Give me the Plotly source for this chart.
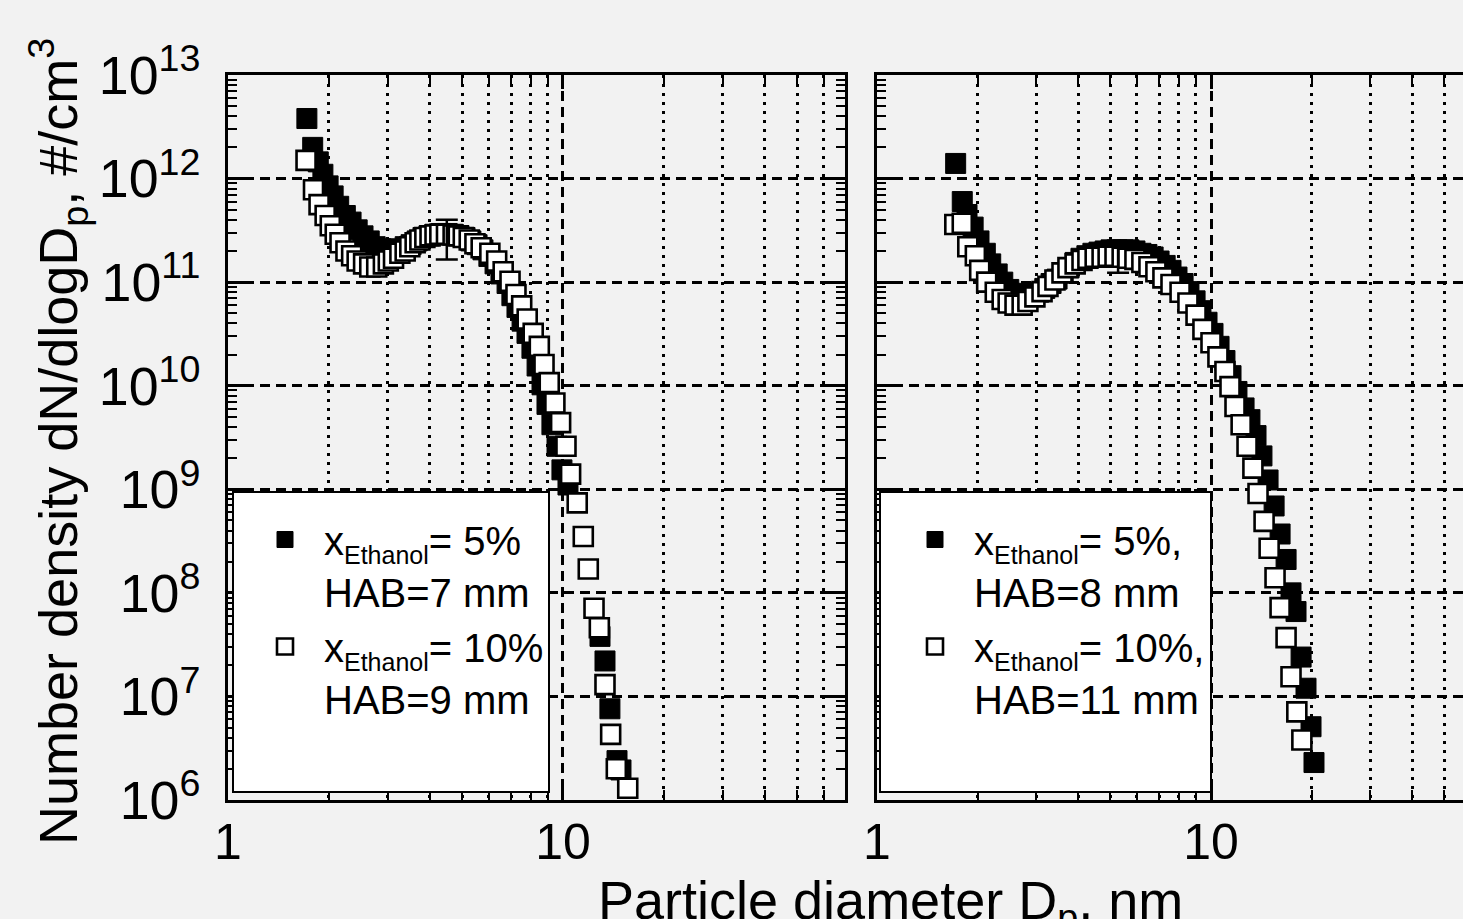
import plotly.graph_objects as go

# ---------------- data ----------------
# Left panel: x_Ethanol = 5 %, HAB = 7 mm (filled squares)
left_d_5 = [1.72, 1.79, 1.86, 1.92, 1.99, 2.06, 2.14, 2.24, 2.33, 2.43, 2.53, 2.64, 2.75, 2.86, 2.98,
            3.11, 3.24, 3.38, 3.52, 3.67, 3.82, 3.98, 4.15, 4.32, 4.51, 4.69, 4.89, 5.10, 5.31, 5.54,
            5.77, 6.01, 6.27, 6.53, 6.81, 7.04, 7.29, 7.55, 7.81, 8.08, 8.37, 8.66, 8.96, 9.27, 9.60,
            9.93, 10.35, 12.9, 13.35, 13.81, 14.50, 14.90]
left_n_5 = [3.8e12, 2.0e12, 1.45e12, 1.1e12, 8.5e11, 6.8e11, 5.4e11, 4.4e11, 3.8e11, 3.2e11, 2.8e11,
            2.5e11, 2.2e11, 2.1e11, 2.05e11, 2.05e11, 2.1e11, 2.2e11, 2.3e11, 2.5e11, 2.7e11, 2.8e11,
            2.9e11, 2.95e11, 2.95e11, 2.9e11, 2.8e11, 2.7e11, 2.5e11, 2.3e11, 2.05e11, 1.77e11, 1.5e11,
            1.2e11, 9.7e10, 7.4e10, 5.7e10, 4.2e10, 3.2e10, 2.3e10, 1.55e10, 1.02e10, 6.6e9, 4.2e9,
            2.6e9, 1.54e9, 1.1e9, 3.8e7, 2.2e7, 7.6e6, 2.4e6, 1.95e6]

# Left panel: x_Ethanol = 10 %, HAB = 9 mm (open squares)
left_d_10 = [1.71, 1.80, 1.87, 1.95, 2.02, 2.09, 2.16, 2.25, 2.34, 2.43, 2.54, 2.65, 2.78, 2.91, 3.01,
             3.12, 3.26, 3.38, 3.49, 3.62, 3.74, 3.87, 4.01, 4.15, 4.29, 4.49, 4.70, 4.87, 5.04, 5.25,
             5.46, 5.70, 6.05, 6.34, 6.63, 6.95, 7.24, 7.53, 7.82, 8.15, 8.50, 8.78, 9.10, 9.46, 9.84,
             10.21, 10.54, 11.03, 11.50, 11.90, 12.38, 12.84, 13.35, 13.88, 14.43, 15.61]
left_n_10 = [1.5e12, 7.8e11, 5.6e11, 4.4e11, 3.5e11, 2.9e11, 2.4e11, 2.0e11, 1.8e11, 1.6e11, 1.5e11,
             1.4e11, 1.4e11, 1.5e11, 1.6e11, 1.7e11, 1.9e11, 2.0e11, 2.2e11, 2.4e11, 2.55e11, 2.7e11,
             2.8e11, 2.85e11, 2.9e11, 2.9e11, 2.85e11, 2.8e11, 2.7e11, 2.55e11, 2.35e11, 2.15e11,
             1.9e11, 1.6e11, 1.26e11, 1.02e11, 7.6e10, 5.9e10, 4.4e10, 3.2e10, 2.4e10, 1.6e10,
             1.07e10, 6.8e9, 4.4e9, 2.6e9, 1.4e9, 7.4e8, 3.5e8, 1.7e8, 7.1e7, 4.6e7, 1.3e7, 4.3e6,
             2.0e6, 1.3e6]

# Right panel: x_Ethanol = 5 %, HAB = 8 mm (filled squares)
right_d_5 = [1.72, 1.80, 1.86, 1.94, 2.02, 2.11, 2.19, 2.29, 2.38, 2.48, 2.59, 2.70, 2.81, 2.93, 3.05,
             3.18, 3.32, 3.46, 3.61, 3.76, 3.92, 4.08, 4.25, 4.43, 4.62, 4.82, 5.02, 5.23, 5.45, 5.68,
             5.92, 6.17, 6.43, 6.71, 6.99, 7.29, 7.59, 7.91, 8.25, 8.59, 8.96, 9.33, 9.73, 10.14, 10.57,
             11.01, 11.48, 11.96, 12.56, 13.08, 13.64, 14.21, 14.82, 15.45, 16.10, 16.78, 17.36, 17.97,
             18.61, 19.25, 19.93, 20.34]
right_n_5 = [1.4e12, 6.0e11, 4.5e11, 3.4e11, 2.5e11, 1.9e11, 1.5e11, 1.2e11, 1.0e11, 8.5e10, 7.8e10,
             7.4e10, 7.4e10, 7.6e10, 8.0e10, 8.7e10, 9.7e10, 1.07e11, 1.23e11, 1.38e11, 1.55e11, 1.7e11,
             1.8e11, 1.9e11, 1.95e11, 2.0e11, 2.05e11, 2.05e11, 2.05e11, 2.05e11, 2.0e11, 1.9e11,
             1.85e11, 1.75e11, 1.6e11, 1.45e11, 1.3e11, 1.12e11, 9.7e10, 8.1e10, 6.6e10, 5.3e10, 4.1e10,
             3.2e10, 2.4e10, 1.75e10, 1.25e10, 8.8e9, 6.1e9, 4.7e9, 3.3e9, 2.1e9, 1.23e9, 6.9e8, 3.7e8,
             2.1e8, 1.0e8, 6.6e7, 2.4e7, 1.2e7, 5.1e6, 2.3e6]

# Right panel: x_Ethanol = 10 %, HAB = 11 mm (open squares)
right_d_10 = [1.71, 1.80, 1.87, 1.97, 2.03, 2.13, 2.26, 2.37, 2.47, 2.59, 2.72, 2.83, 2.97, 3.12, 3.25,
              3.41, 3.58, 3.73, 3.92, 4.11, 4.28, 4.50, 4.72, 4.92, 5.16, 5.42, 5.64, 5.92, 6.21, 6.52,
              6.84, 7.18, 7.59, 8.08, 8.53, 9.02, 9.46, 10.0, 10.49, 11.01, 11.40, 11.80, 12.31, 12.82,
              13.35, 13.83, 14.42, 14.93, 15.55, 16.10, 16.78, 17.36, 18.07, 18.71]
right_n_10 = [3.6e11, 3.7e11, 2.2e11, 1.8e11, 1.3e11, 1.0e11, 8.0e10, 6.8e10, 6.3e10, 6.0e10, 6.0e10,
              6.5e10, 7.2e10, 8.1e10, 9.1e10, 1.05e11, 1.23e11, 1.38e11, 1.5e11, 1.62e11, 1.7e11,
              1.74e11, 1.74e11, 1.78e11, 1.78e11, 1.74e11, 1.7e11, 1.66e11, 1.55e11, 1.41e11, 1.26e11,
              1.1e11, 9.5e10, 8.0e10, 6.3e10, 4.8e10, 3.5e10, 2.6e10, 1.9e10, 1.37e10, 9.8e9, 6.3e9,
              4.2e9, 2.6e9, 1.6e9, 9.1e8, 4.9e8, 2.7e8, 1.4e8, 7.2e7, 3.7e7, 1.55e7, 7.1e6, 3.8e6]

# error bars (diameter, value, plus, minus)
left_err_d, left_err_n, left_err_p, left_err_m = [4.50], [2.9e11], [1.1e11], [1.25e11]
right_err_d, right_err_n, right_err_p, right_err_m = [5.27], [1.78e11], [5.5e10], [5.5e10]

SUB = '<sub><span style="font-size:25px">Ethanol</span></sub>'
legend_left = ["x" + SUB + "= 5%<br>HAB=7 mm", "x" + SUB + "= 10%<br>HAB=9 mm"]
legend_right = ["x" + SUB + "= 5%,<br>HAB=8 mm", "x" + SUB + "= 10%,<br>HAB=11 mm"]

x_title = "Particle diameter D<sub>p</sub>, nm"
y_title = "Number density dN/dlogD<sub>p</sub>, #/cm<sup>3</sup>"

# ---------------- figure ----------------
W, H = 1463, 919
BG = "#f2f2f2"
FONT = "Arial, Liberation Sans, Helvetica, sans-serif"

filled = dict(symbol="square", size=20, color="black", line=dict(color="black", width=1))
opened = dict(symbol="square", size=19, color="white", line=dict(color="black", width=2.6))

fig = go.Figure()
fig.add_trace(go.Scatter(x=left_d_5, y=left_n_5, mode="markers", marker=filled,
                         name=legend_left[0], xaxis="x", yaxis="y", legend="legend"))
fig.add_trace(go.Scatter(x=left_d_10, y=left_n_10, mode="markers", marker=opened,
                         name=legend_left[1], xaxis="x", yaxis="y", legend="legend"))
fig.add_trace(go.Scatter(x=right_d_5, y=right_n_5, mode="markers", marker=filled,
                         name=legend_right[0], xaxis="x2", yaxis="y2", legend="legend2"))
fig.add_trace(go.Scatter(x=right_d_10, y=right_n_10, mode="markers", marker=opened,
                         name=legend_right[1], xaxis="x2", yaxis="y2", legend="legend2"))
fig.add_trace(go.Scatter(x=left_err_d, y=left_err_n, mode="markers", marker=dict(size=1, opacity=0),
                         error_y=dict(type="data", array=left_err_p, arrayminus=left_err_m,
                                      color="black", thickness=2.5, width=11),
                         showlegend=False, xaxis="x", yaxis="y"))
fig.add_trace(go.Scatter(x=right_err_d, y=right_err_n, mode="markers", marker=dict(size=1, opacity=0),
                         error_y=dict(type="data", array=right_err_p, arrayminus=right_err_m,
                                      color="black", thickness=2.5, width=11),
                         showlegend=False, xaxis="x2", yaxis="y2"))

def px(v):
    return v / W

def py(v):
    return 1 - v / H

TOP, BOT = 75, 800
ydom = [py(BOT), py(TOP)]

xaxis_common = dict(
    type="log", dtick=1, showline=True, linecolor="black", linewidth=3,
    ticks="inside", ticklen=14, tickwidth=3, tickcolor="black",
    showgrid=True, gridcolor="black", gridwidth=2.5, griddash="10px,6px",
    minor=dict(dtick="D1", ticks="inside", ticklen=10, tickwidth=2, tickcolor="black",
               showgrid=True, gridcolor="black", gridwidth=2.5, griddash="3px,6px"),
    tickfont=dict(family=FONT, size=50, color="black"), ticklabelstandoff=-4,
    zeroline=False,
)
yaxis_common = dict(
    type="log", dtick=1, range=[6, 13], domain=ydom, showline=True, linecolor="black", linewidth=3,
    ticks="inside", ticklen=18, tickwidth=3, tickcolor="black",
    showgrid=True, gridcolor="black", gridwidth=2.5, griddash="10px,6px",
    minor=dict(dtick="D1", ticks="inside", ticklen=9, tickwidth=2, tickcolor="black", showgrid=False),
    exponentformat="power", tickfont=dict(family=FONT, size=43, color="black"),
    ticklabelstandoff=16, zeroline=False,
)

legend_style = dict(xanchor="left", yanchor="top", bgcolor="rgba(0,0,0,0)", borderwidth=0,
                    font=dict(family=FONT, size=40, color="black"), valign="top",
                    tracegroupgap=0, itemwidth=68)

fig.update_layout(
    width=W, height=H,
    paper_bgcolor=BG, plot_bgcolor=BG,
    margin=dict(l=0, r=0, t=0, b=0, autoexpand=False),
    font=dict(family=FONT, color="black"),
    xaxis=dict(xaxis_common, domain=[px(228), px(845)], range=[0, 1.842], anchor="y", mirror="allticks"),
    yaxis=dict(yaxis_common, anchor="x", mirror="allticks"),
    xaxis2=dict(xaxis_common, domain=[px(877), 1.0], range=[0, 1.7545], anchor="y2", mirror="allticks"),
    yaxis2=dict(yaxis_common, anchor="x2", showticklabels=False, mirror=False),
    legend=dict(legend_style, x=px(246), y=py(507)),
    legend2=dict(legend_style, x=px(896), y=py(507)),
    shapes=[
        dict(type="rect", xref="paper", yref="paper", x0=px(233), x1=px(549), y0=py(792), y1=py(492),
             fillcolor="white", line=dict(color="black", width=2), layer="above"),
        dict(type="rect", xref="paper", yref="paper", x0=px(880), x1=px(1211), y0=py(792), y1=py(492),
             fillcolor="white", line=dict(color="black", width=2), layer="above"),
    ],
    annotations=[
        dict(text=x_title, xref="paper", yref="paper", x=px(890), y=py(904), xanchor="center",
             yanchor="middle", showarrow=False, font=dict(family=FONT, size=54, color="black")),
        dict(text=y_title, xref="paper", yref="paper", x=px(58), y=py(442), xanchor="center",
             yanchor="middle", textangle=-90, showarrow=False,
             font=dict(family=FONT, size=54, color="black")),
    ],
)

fig.write_html(
    "out.html",
    config={"displayModeBar": False},
    post_script="document.body.style.margin='0';document.body.style.background='#f2f2f2';"
                "document.documentElement.style.overflow='hidden';",
)
